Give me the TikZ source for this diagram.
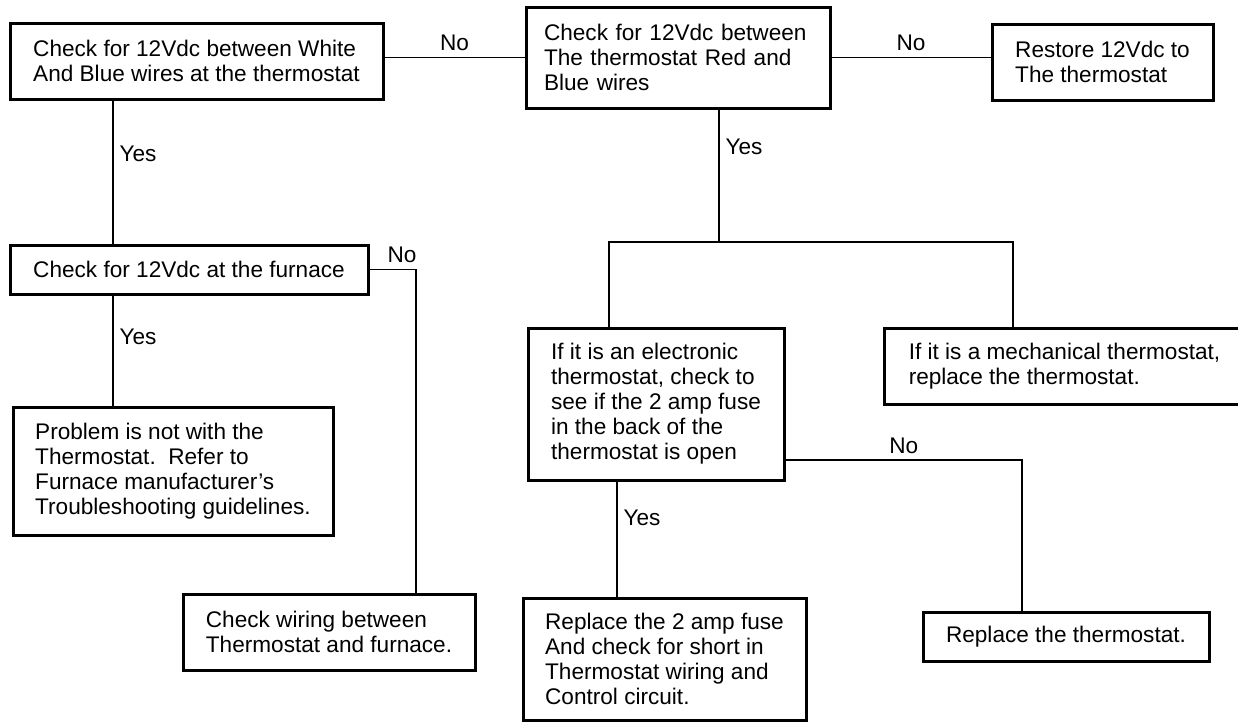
\documentclass[tikz,border=0pt]{standalone}
\usepackage{fontspec}
\setmainfont{Liberation Sans}
\usetikzlibrary{positioning}

\begin{document}
\begin{tikzpicture}[x=0.5pt,y=-0.5pt,line width=0.65pt,
					check node/.style={rectangle,draw,line width=1.5pt,align=left,inner xsep=2pt,
						font=\fontsize{11.3}{12.5}\selectfont},
					answer/.style={font=\fontsize{11.3}{12.5}\selectfont,inner sep=3pt}]
					
					\useasboundingbox (0,0) rectangle (1238,723);
					
					\node[check node,minimum width=186.5pt,minimum height=38pt] (1) at (196.5,61)
					{Check for 12Vdc between White\\And Blue wires at the thermostat};
					\node[check node,minimum width=152pt,minimum height=50.5pt,text width=134pt,inner xsep=9pt] (2) at (678,57.5)
					{Check for 12Vdc between\\The thermostat Red and\\Blue wires};
					\node[check node,minimum width=110.5pt,minimum height=38pt] (3) at (1102.5,62)
					{Restore 12Vdc to\\The thermostat};
					\node[check node,minimum width=179pt,minimum height=24.5pt] (4) at (189,269.5)
					{Check for 12Vdc at the furnace};
					\node[check node,minimum width=160pt,minimum height=64pt] (5) at (173,471)
					{Problem is not with the\\Thermostat.\ \ Refer to\\Furnace manufacturer's\\Troubleshooting guidelines.};
					\node[check node,minimum width=146pt,minimum height=38pt] (6) at (329,632)
					{Check wiring between\\Thermostat and furnace.};
					\node[check node,minimum width=128pt,minimum height=76pt] (7) at (656,404)
					{If it is an electronic\\thermostat, check to\\see if the 2 amp fuse\\in the back of the\\thermostat is open};
					\node[check node,minimum width=180.5pt,minimum height=38pt] (8) at (1064.5,366)
					{If it is a mechanical thermostat,\\replace the thermostat.};
					\node[check node,minimum width=141.5pt,minimum height=61pt] (9) at (664.5,659)
					{Replace the 2 amp fuse\\And check for short in\\Thermostat wiring and\\Control circuit.};
					\node[check node,minimum width=143pt,minimum height=24.5pt] (10) at (1066,636.5)
					{Replace the thermostat.};
					
					% where the lines run
					\coordinate (c1) at (113,0);
					\coordinate (c2) at (416,0);
					\coordinate (c3) at (719,242);
					\coordinate (f1) at (609,242);
					\coordinate (f2) at (1013,242);
					\coordinate (c4) at (617,0);
					\coordinate (c5) at (1022,460);
					
					\path[draw]
					(1.east |- 2.west) edge node[answer,above] {No} (2.west)
					(2.east) edge node[answer,above] {No} (2.east -| 3.west)
					(c1 |- 1.south) edge node[answer,right,pos=0.37] {Yes} (c1 |- 4.north)
					(c1 |- 4.south) edge node[answer,right,pos=0.38] {Yes} (c1 |- 5.north)
					(c3 |- 2.south) edge node[answer,right,pos=0.28] {Yes} (c3)
					(c4 |- 7.south) edge node[answer,right,pos=0.32] {Yes} (c4 |- 9.north)
					;
					\draw (4.east) -- node[answer,above,pos=0.7] {No} (4.east -| c2) -- (c2 |- 6.north);
					\draw (f1 |- 7.north) -- (f1) -- (f2) -- (f2 |- 8.north);
					\draw (7.east |- c5) -- node[answer,above] {No} (c5) -- (c5 |- 10.north);
					\end{tikzpicture}
\end{document}
